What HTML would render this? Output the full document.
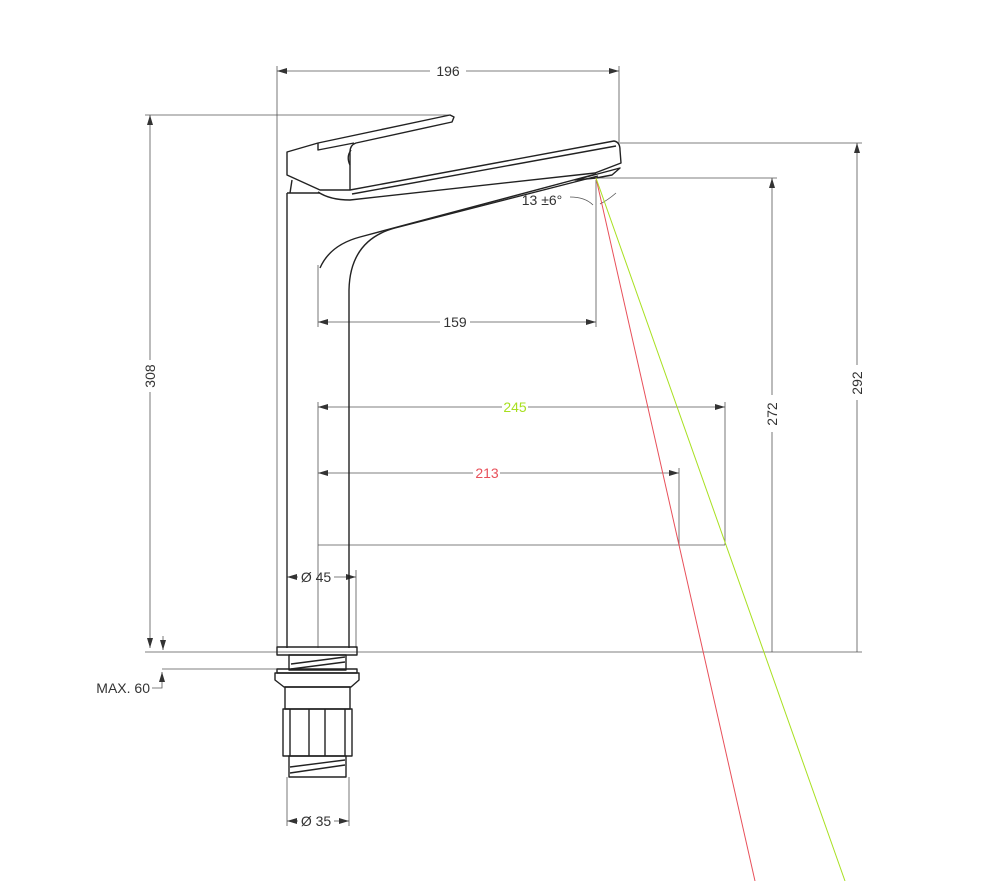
<!DOCTYPE html>
<html><head><meta charset="utf-8"><style>
html,body{margin:0;padding:0;background:#fff}
svg{display:block}
text{font-family:"Liberation Sans Narrow","Liberation Sans",sans-serif;font-size:14px;fill:#333}
</style></head><body>
<svg width="990" height="881" viewBox="0 0 990 881" xmlns="http://www.w3.org/2000/svg">
<defs>
<marker id="a" viewBox="0 0 10 6" refX="10" refY="3" markerWidth="10" markerHeight="6" orient="auto-start-reverse" markerUnits="userSpaceOnUse"><path d="M0,0 L10,3 L0,6z" fill="#333"/></marker>
</defs>
<g stroke="#555" stroke-width="0.8" fill="none">
<line x1="277" y1="66" x2="277" y2="648"/>
<line x1="619" y1="66" x2="619" y2="145"/>
<line x1="145" y1="115" x2="450" y2="115"/>
<line x1="620" y1="143" x2="862" y2="143"/>
<line x1="596" y1="178" x2="777" y2="178"/>
<line x1="145" y1="652" x2="862" y2="652"/>
<line x1="318" y1="265" x2="318" y2="327"/>
<line x1="596" y1="180" x2="596" y2="327"/>
<line x1="318" y1="402" x2="318" y2="648"/>
<line x1="725" y1="402" x2="725" y2="545"/>
<line x1="679" y1="468" x2="679" y2="545"/>
<line x1="318" y1="545" x2="725" y2="545"/>
<line x1="356" y1="570" x2="356" y2="648"/>
<line x1="162" y1="669" x2="357" y2="669"/>
<line x1="287" y1="777" x2="287" y2="826"/>
<line x1="349" y1="777" x2="349" y2="826"/>
<line x1="277" y1="71" x2="430" y2="71" marker-start="url(#a)"/>
<line x1="466" y1="71" x2="619" y2="71" marker-end="url(#a)"/>
<line x1="150" y1="115" x2="150" y2="360" marker-start="url(#a)"/>
<line x1="150" y1="392" x2="150" y2="648" marker-end="url(#a)"/>
<line x1="163" y1="636" x2="163" y2="650" marker-end="url(#a)"/>
<line x1="857" y1="143" x2="857" y2="365" marker-start="url(#a)"/>
<line x1="857" y1="400" x2="857" y2="652"/>
<line x1="772" y1="178" x2="772" y2="395" marker-start="url(#a)"/>
<line x1="772" y1="432" x2="772" y2="652"/>
<line x1="318" y1="322" x2="440" y2="322" marker-start="url(#a)"/>
<line x1="470" y1="322" x2="596" y2="322" marker-end="url(#a)"/>
<line x1="318" y1="407" x2="502" y2="407" marker-start="url(#a)"/>
<line x1="528" y1="407" x2="725" y2="407" marker-end="url(#a)"/>
<line x1="318" y1="473" x2="473" y2="473" marker-start="url(#a)"/>
<line x1="500" y1="473" x2="679" y2="473" marker-end="url(#a)"/>
<line x1="287" y1="577" x2="298" y2="577" marker-start="url(#a)"/>
<line x1="334" y1="577" x2="356" y2="577" marker-end="url(#a)"/>
<line x1="287" y1="821" x2="298" y2="821" marker-start="url(#a)"/>
<line x1="334" y1="821" x2="349" y2="821" marker-end="url(#a)"/>
<polyline points="152,688 162,688 162,672" marker-end="url(#a)"/>
<path d="M570,197 Q585,197 593,205"/>
<path d="M616,193 Q608,200 600,204"/>
</g>
<g stroke="#222" stroke-width="1.4" fill="none" stroke-linejoin="round">
<line x1="287" y1="193" x2="287" y2="648"/>
<line x1="287" y1="193" x2="320" y2="193"/>
<path d="M349,648 L349,290 Q350,240 395,228 L598,176"/>
<path d="M320,268 Q330,245 360,237 L596,174"/>
<path d="M287,152 L318,143 L450,115 L454,117 L452,122 L356,143 Q350,145 350,152 L350,190 L320,190 L287,175z"/>
<path d="M318,143 L318,150 L354,143"/>
<path d="M350,165 Q346,157 351,150"/>
<path d="M292,180 L290,193"/>
<path d="M350,190 L614,141 Q620,142 620,150 L621,163 L595,173 L350,200 Q330,200 318,192"/>
<path d="M352,194 L616,146"/>
<path d="M575,180 L620,168 L612,175 L596,178z"/>
<rect x="277" y="647" width="80" height="8"/>
<rect x="289" y="655" width="57" height="15"/>
<path d="M291,664 L345,657 M291,669 L345,662"/>
<rect x="277" y="669" width="80" height="4"/>
<path d="M275,673 L359,673 L359,680 L351,687 L284,687 L275,680z"/>
<rect x="285" y="687" width="65" height="22"/>
<rect x="283" y="709" width="69" height="47"/>
<line x1="290" y1="709" x2="290" y2="756"/>
<line x1="309" y1="709" x2="309" y2="756"/>
<line x1="325" y1="709" x2="325" y2="756"/>
<line x1="345" y1="709" x2="345" y2="756"/>
<rect x="289" y="756" width="57" height="21"/>
<path d="M290,767 L345,760 M290,773 L345,765"/>
</g>
<line x1="596" y1="178" x2="755" y2="881" stroke="#e8505a" stroke-width="1"/>
<line x1="596" y1="178" x2="845" y2="881" stroke="#a8e020" stroke-width="1"/>
<text x="448" y="76" text-anchor="middle">196</text>
<text x="155" y="376" text-anchor="middle" transform="rotate(-90 155 376)">308</text>
<text x="862" y="383" text-anchor="middle" transform="rotate(-90 862 383)">292</text>
<text x="777" y="414" text-anchor="middle" transform="rotate(-90 777 414)">272</text>
<text x="455" y="327" text-anchor="middle">159</text>
<text x="515" y="412" text-anchor="middle" style="fill:#a8e020">245</text>
<text x="487" y="478" text-anchor="middle" style="fill:#e8505a">213</text>
<text x="316" y="582" text-anchor="middle">Ø 45</text>
<text x="316" y="826" text-anchor="middle">Ø 35</text>
<text x="150" y="693" text-anchor="end">MAX. 60</text>
<text x="542" y="205" text-anchor="middle">13 ±6°</text>
</svg>
</body></html>
